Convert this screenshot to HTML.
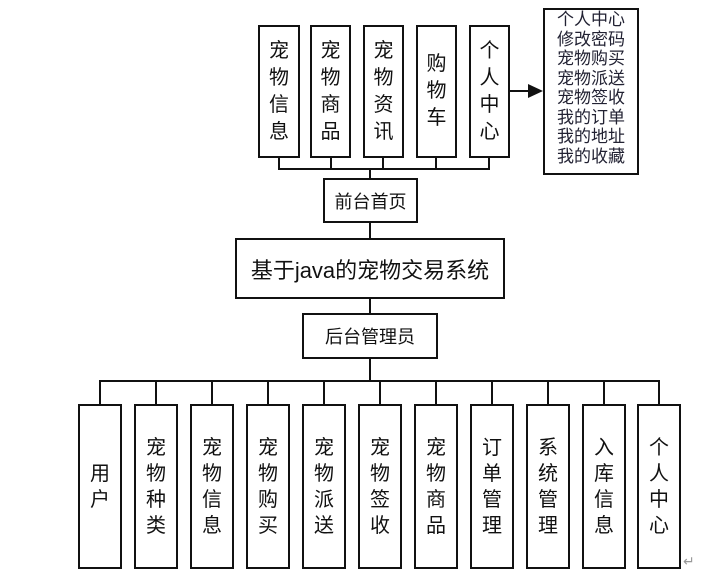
<!DOCTYPE html>
<html><head><meta charset="utf-8"><style>
body{margin:0;width:725px;height:578px;background:#fff;position:relative;overflow:hidden;font-family:"Liberation Sans","Noto Sans CJK SC",sans-serif;color:#111}
.b{position:absolute;border:2px solid #111;box-sizing:border-box;background:#fff;display:flex;align-items:center;justify-content:center}
.v{flex-direction:column;font-size:20px;line-height:26px}
.l{position:absolute;background:#111}
</style></head><body>
<!-- top connectors -->
<div class="l" style="left:278px;top:157px;width:2px;height:12px"></div>
<div class="l" style="left:330px;top:157px;width:2px;height:12px"></div>
<div class="l" style="left:382px;top:157px;width:2px;height:12px"></div>
<div class="l" style="left:435px;top:157px;width:2px;height:12px"></div>
<div class="l" style="left:488px;top:157px;width:2px;height:12px"></div>
<div class="l" style="left:278px;top:168px;width:212px;height:2px"></div>
<div class="l" style="left:369px;top:168px;width:2px;height:12px"></div>
<div class="l" style="left:369px;top:222px;width:2px;height:17px"></div>
<div class="l" style="left:369px;top:297px;width:2px;height:17px"></div>
<div class="l" style="left:369px;top:358px;width:2px;height:24px"></div>
<div class="l" style="left:99px;top:380px;width:561px;height:2px"></div>
<div class="l" style="left:99px;top:380px;width:2px;height:25px"></div>
<div class="l" style="left:155px;top:380px;width:2px;height:25px"></div>
<div class="l" style="left:211px;top:380px;width:2px;height:25px"></div>
<div class="l" style="left:267px;top:380px;width:2px;height:25px"></div>
<div class="l" style="left:323px;top:380px;width:2px;height:25px"></div>
<div class="l" style="left:379px;top:380px;width:2px;height:25px"></div>
<div class="l" style="left:435px;top:380px;width:2px;height:25px"></div>
<div class="l" style="left:491px;top:380px;width:2px;height:25px"></div>
<div class="l" style="left:547px;top:380px;width:2px;height:25px"></div>
<div class="l" style="left:603px;top:380px;width:2px;height:25px"></div>
<div class="l" style="left:658px;top:380px;width:2px;height:25px"></div>
<!-- arrow -->
<div class="l" style="left:509px;top:90px;width:22px;height:2px"></div>
<svg style="position:absolute;left:528px;top:84px" width="16" height="14"><polygon points="0,0 15,7 0,14" fill="#111"/></svg>

<div class="b v" style="left:258px;top:25px;width:42px;height:133px;line-height:27px">宠<br>物<br>信<br>息</div>
<div class="b v" style="left:310px;top:25px;width:41px;height:133px;line-height:27px">宠<br>物<br>商<br>品</div>
<div class="b v" style="left:363px;top:25px;width:41px;height:133px;line-height:27px">宠<br>物<br>资<br>讯</div>
<div class="b v" style="left:416px;top:25px;width:41px;height:133px;line-height:27px">购<br>物<br>车</div>
<div class="b v" style="left:469px;top:25px;width:41px;height:133px;line-height:27px">个<br>人<br>中<br>心</div>
<div class="b" style="left:543px;top:8px;width:96px;height:167px;flex-direction:column;justify-content:flex-start;font-size:17px;line-height:19.5px;padding-top:0;color:#223">个人中心<br>修改密码<br>宠物购买<br>宠物派送<br>宠物签收<br>我的订单<br>我的地址<br>我的收藏</div>

<div class="b" style="left:323px;top:178px;width:95px;height:45px;font-size:18px">前台首页</div>
<div class="b" style="left:235px;top:238px;width:270px;height:61px;font-size:22px">基于java的宠物交易系统</div>
<div class="b" style="left:302px;top:313px;width:136px;height:46px;font-size:18px">后台管理员</div>

<div class="b v" style="left:78px;top:404px;width:44px;height:165px">用<br>户</div>
<div class="b v" style="left:134px;top:404px;width:44px;height:165px">宠<br>物<br>种<br>类</div>
<div class="b v" style="left:190px;top:404px;width:44px;height:165px">宠<br>物<br>信<br>息</div>
<div class="b v" style="left:246px;top:404px;width:44px;height:165px">宠<br>物<br>购<br>买</div>
<div class="b v" style="left:302px;top:404px;width:44px;height:165px">宠<br>物<br>派<br>送</div>
<div class="b v" style="left:358px;top:404px;width:44px;height:165px">宠<br>物<br>签<br>收</div>
<div class="b v" style="left:414px;top:404px;width:44px;height:165px">宠<br>物<br>商<br>品</div>
<div class="b v" style="left:470px;top:404px;width:44px;height:165px">订<br>单<br>管<br>理</div>
<div class="b v" style="left:526px;top:404px;width:44px;height:165px">系<br>统<br>管<br>理</div>
<div class="b v" style="left:582px;top:404px;width:44px;height:165px">入<br>库<br>信<br>息</div>
<div class="b v" style="left:637px;top:404px;width:44px;height:165px">个<br>人<br>中<br>心</div>
<div style="position:absolute;left:683px;top:553px;font-size:14px;color:#999">↵</div>
</body></html>
